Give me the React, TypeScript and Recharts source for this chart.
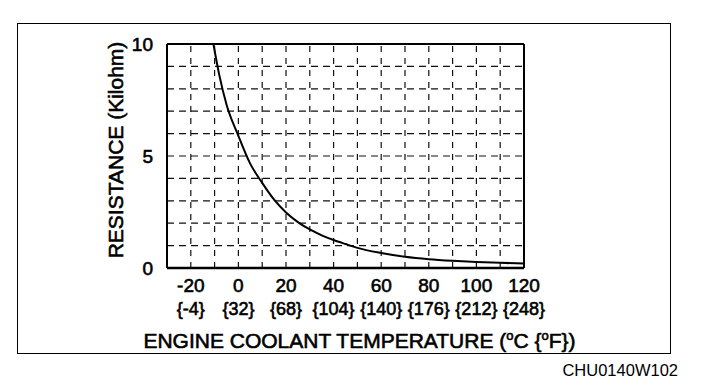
import { LineChart, Line, XAxis, YAxis, ReferenceLine } from "recharts";

const temperatures = [-10.5, -8, -5, 0, 5, 10, 15, 20, 25, 30, 35, 40, 45, 50, 60, 70, 80, 90, 100, 110, 120];
const resistance = [10, 8.6, 7.3, 5.9, 4.65, 3.8, 3.05, 2.48, 2.05, 1.72, 1.46, 1.25, 1.07, 0.9, 0.67, 0.5, 0.39, 0.32, 0.27, 0.23, 0.2];

const celsiusTicks = [-20, 0, 20, 40, 60, 80, 100, 120];
const fahrenheitLabels = ["{-4}", "{32}", "{68}", "{104}", "{140}", "{176}", "{212}", "{248}"];
const resistanceTicks = [0, 5, 10];

const gridTemps = [-20, -10, 0, 10, 20, 30, 40, 50, 60, 70, 80, 90, 100, 110];
const gridResistance = [1, 2, 3, 4, 5, 6, 7, 8, 9];

const data = temperatures.map((t, i) => ({ temp: t, kohm: resistance[i] }));

const FONT = "'Liberation Sans', Arial, Helvetica, sans-serif";
// scanned look: regular face with a thin outline
const INK = { fill: "#000", stroke: "#000", strokeWidth: 0.6 };

const TempTick = (props: any) => {
  const { x, y, payload, index } = props;
  return (
    <g>
      <text x={x} y={y} dy={24} textAnchor="middle" fontSize={19} fontFamily={FONT} {...INK}>
        {payload.value}
      </text>
      <text x={x} y={y} dy={47} textAnchor="middle" fontSize={18} fontFamily={FONT} {...INK}>
        {fahrenheitLabels[index]}
      </text>
    </g>
  );
};

const ResTick = (props: any) => {
  const { x, y, payload } = props;
  return (
    <text x={x} y={y} dy={7} textAnchor="end" fontSize={19} fontFamily={FONT} {...INK}>
      {payload.value}
    </text>
  );
};

const XTitle = (props: any) => {
  const { viewBox } = props;
  return (
    <text x={viewBox.x + viewBox.width / 2 + 14} y={viewBox.y + 80} textAnchor="middle" fontSize={21} fontFamily={FONT} {...INK}>
      ENGINE COOLANT TEMPERATURE (
      <tspan fontSize={13} dy={-8}>o</tspan>
      <tspan dy={8}>C {"{"}</tspan>
      <tspan fontSize={13} dy={-8}>o</tspan>
      <tspan dy={8}>F{"}"})</tspan>
    </text>
  );
};

const YTitle = (props: any) => {
  const { viewBox } = props;
  const cx = 115;
  const cy = viewBox.y + viewBox.height / 2 - 6;
  return (
    <text x={cx} y={cy} transform={`rotate(-90 ${cx} ${cy})`} textAnchor="middle" dominantBaseline="central" fontSize={21} fontFamily={FONT} {...INK}>
      RESISTANCE (Kilohm)
    </text>
  );
};

export default function App() {
  return (
    <div style={{ position: "fixed", left: 0, top: 0, width: 704, height: 390, background: "#fff" }}>
      <div
        style={{
          position: "absolute",
          left: 17,
          top: 23,
          width: 654,
          height: 331,
          boxSizing: "border-box",
          border: "1.5px solid #000",
        }}
      />
      <LineChart
        width={704}
        height={390}
        data={data}
        margin={{ top: 44, right: 180, bottom: 32, left: 107 }}
        style={{ position: "absolute", left: 0, top: 0 }}
      >
        {gridResistance.map((r) => (
          <ReferenceLine key={`h${r}`} y={r} stroke="#111" strokeWidth={1.2} strokeDasharray="7 5" />
        ))}
        {gridTemps.map((t) => (
          <ReferenceLine key={`v${t}`} x={t} stroke="#111" strokeWidth={1.2} strokeDasharray="6 6" />
        ))}
        <ReferenceLine y={10} stroke="#000" strokeWidth={2} />
        <ReferenceLine x={120} stroke="#000" strokeWidth={2} />
        <XAxis
          dataKey="temp"
          type="number"
          domain={[-30, 120]}
          ticks={celsiusTicks}
          interval={0}
          tickLine={false}
          tickSize={0}
          tickMargin={0}
          axisLine={{ stroke: "#000", strokeWidth: 2.5 }}
          tick={<TempTick />}
          height={90}
          label={<XTitle />}
        />
        <YAxis
          type="number"
          domain={[0, 10]}
          ticks={resistanceTicks}
          allowDataOverflow
          tickLine={false}
          tickMargin={8}
          axisLine={{ stroke: "#000", strokeWidth: 2 }}
          tick={<ResTick />}
          width={60}
          label={<YTitle />}
        />
        <Line
          type="monotone"
          dataKey="kohm"
          stroke="#000"
          strokeWidth={2}
          dot={false}
          isAnimationActive={false}
        />
      </LineChart>
      <div
        style={{
          position: "absolute",
          right: 26,
          top: 361,
          fontSize: 16.5,
          fontFamily: FONT,
          color: "#000",
          lineHeight: "18px",
        }}
      >
        CHU0140W102
      </div>
    </div>
  );
}
